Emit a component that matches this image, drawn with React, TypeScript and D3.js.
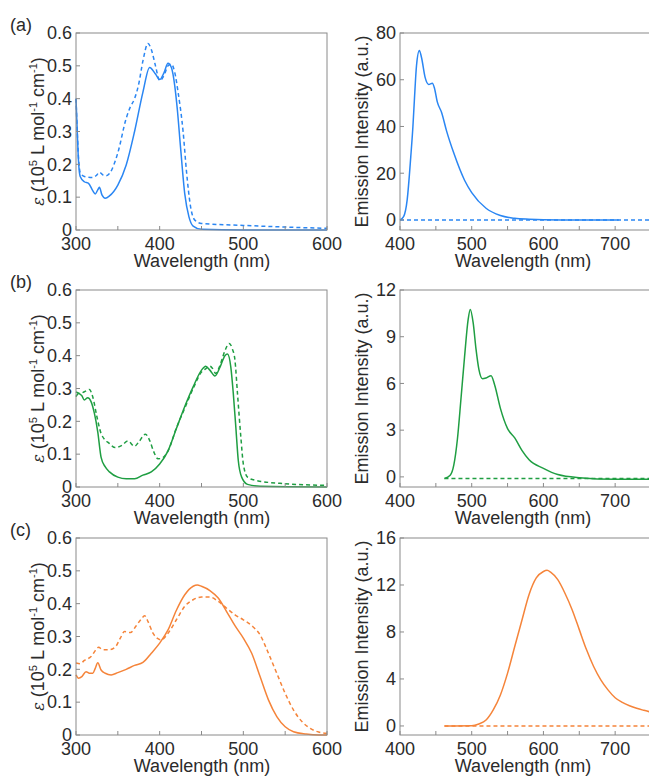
import React from 'react'
import * as d3 from 'd3'

// colours
const BLUE = '#2a86f3'
const GREEN = '#1f9e42'
const ORANGE = '#f5843a'
const FRAME = '#8a8a8a'
const INK = '#2b2b2b'

// absorption: [wavelength nm, eps / 1e5]
const absASolid = [[300, 0.40], [301.5, 0.30], [303, 0.21], [305, 0.163], [310, 0.147], [315, 0.142], [320, 0.12], [323, 0.11], [326, 0.122], [328, 0.13], [331, 0.107], [335, 0.097], [340, 0.104], [350, 0.137], [360, 0.198], [370, 0.30], [380, 0.42], [388, 0.495], [395, 0.475], [400, 0.458], [405, 0.478], [410, 0.508], [414, 0.495], [418, 0.44], [421, 0.37], [425, 0.25], [430, 0.11], [435, 0.04], [440, 0.012], [450, 0.002], [500, 0], [600, 0]]
const absADashed = [[300, 0.40], [301.5, 0.30], [303, 0.22], [305, 0.175], [310, 0.163], [320, 0.16], [325, 0.168], [328, 0.176], [332, 0.168], [336, 0.165], [340, 0.172], [350, 0.235], [360, 0.34], [365, 0.375], [370, 0.40], [375, 0.445], [380, 0.515], [386, 0.568], [390, 0.55], [395, 0.50], [400, 0.455], [405, 0.47], [410, 0.50], [414, 0.505], [418, 0.48], [422, 0.42], [428, 0.30], [432, 0.18], [437, 0.07], [442, 0.03], [450, 0.02], [500, 0.014], [550, 0.009], [600, 0.005]]

const absBSolid = [[300, 0.275], [303, 0.285], [307, 0.278], [310, 0.265], [314, 0.272], [318, 0.26], [322, 0.224], [326, 0.168], [330, 0.09], [335, 0.061], [340, 0.046], [350, 0.03], [360, 0.025], [370, 0.025], [380, 0.036], [390, 0.046], [400, 0.07], [410, 0.11], [420, 0.178], [430, 0.245], [440, 0.305], [450, 0.356], [455, 0.368], [460, 0.356], [466, 0.338], [472, 0.364], [478, 0.40], [481, 0.405], [485, 0.366], [488, 0.285], [491, 0.183], [494, 0.08], [498, 0.03], [505, 0.008], [520, 0.002], [600, 0]]
const absBDashed = [[300, 0.29], [305, 0.285], [310, 0.29], [316, 0.297], [320, 0.275], [325, 0.214], [330, 0.163], [340, 0.132], [347, 0.12], [355, 0.127], [362, 0.14], [370, 0.124], [375, 0.137], [383, 0.161], [388, 0.142], [393, 0.107], [398, 0.086], [402, 0.087], [410, 0.11], [420, 0.18], [430, 0.24], [440, 0.30], [450, 0.35], [455, 0.36], [460, 0.368], [463, 0.362], [467, 0.346], [472, 0.37], [478, 0.415], [483, 0.437], [487, 0.42], [490, 0.386], [493, 0.285], [497, 0.153], [500, 0.07], [505, 0.03], [515, 0.02], [550, 0.01], [600, 0.005]]

const absCSolid = [[300, 0.183], [303, 0.173], [307, 0.178], [312, 0.193], [316, 0.188], [320, 0.188], [323, 0.203], [326, 0.22], [330, 0.198], [335, 0.188], [342, 0.183], [350, 0.19], [360, 0.20], [370, 0.212], [380, 0.221], [390, 0.249], [400, 0.28], [410, 0.32], [420, 0.38], [430, 0.427], [440, 0.453], [445, 0.457], [450, 0.453], [460, 0.44], [470, 0.417], [480, 0.376], [490, 0.333], [500, 0.295], [510, 0.249], [520, 0.178], [530, 0.107], [540, 0.056], [550, 0.025], [560, 0.01], [575, 0.003], [590, 0], [600, 0]]
const absCDashed = [[300, 0.219], [305, 0.217], [310, 0.227], [318, 0.239], [324, 0.26], [327, 0.267], [332, 0.26], [340, 0.26], [347, 0.268], [353, 0.295], [358, 0.315], [365, 0.312], [372, 0.333], [378, 0.353], [382, 0.363], [386, 0.346], [392, 0.31], [397, 0.295], [402, 0.29], [410, 0.31], [420, 0.351], [430, 0.392], [440, 0.412], [450, 0.42], [460, 0.42], [470, 0.407], [480, 0.386], [490, 0.366], [500, 0.351], [510, 0.333], [520, 0.305], [530, 0.249], [540, 0.188], [550, 0.127], [560, 0.076], [570, 0.041], [580, 0.02], [590, 0.009], [600, 0.005]]

// emission: [wavelength nm, intensity a.u.]
const emASolid = [[400, 0], [405, 1.4], [410, 8.6], [415, 27], [418, 40], [420, 51], [423, 66], [427, 72.5], [430, 69.5], [435, 61], [440, 58], [445, 58.5], [448, 56.5], [452, 50.5], [458, 46], [465, 38], [475, 28.6], [490, 17], [500, 11.7], [520, 5], [540, 1.9], [560, 0.7], [580, 0.3], [600, 0.1], [650, 0], [705, 0]]
const emADashed = [[400, 0], [750, 0]]

const emBSolid = [[462, -0.1], [470, 0.1], [475, 0.75], [480, 2.4], [485, 5], [490, 7.7], [495, 10.1], [498, 10.75], [502, 9.9], [506, 8.2], [510, 6.9], [515, 6.3], [520, 6.35], [527, 6.5], [532, 5.9], [540, 4.4], [550, 3.1], [560, 2.5], [570, 1.7], [580, 1.1], [600, 0.55], [620, 0.15], [650, -0.05], [700, -0.15], [750, -0.15]]
const emBDashed = [[462, -0.1], [750, -0.1]]

const emCSolid = [[462, 0], [500, 0.02], [510, 0.17], [520, 0.5], [530, 1.36], [540, 2.64], [550, 4.5], [560, 6.76], [570, 9.0], [580, 11.2], [590, 12.6], [600, 13.15], [605, 13.25], [610, 13.1], [620, 12.45], [630, 11.3], [640, 9.9], [650, 8.2], [660, 6.5], [670, 5.06], [680, 3.92], [690, 3.07], [700, 2.4], [710, 2.0], [720, 1.72], [730, 1.5], [740, 1.33], [750, 1.18]]
const emCDashed = [[462, 0], [750, 0]]

const absYTicks = [0, 0.1, 0.2, 0.3, 0.4, 0.5, 0.6]
const absXTicks = [300, 350, 400, 450, 500, 550, 600]
const absXLabels = [300, 400, 500, 600]
const emXTicks = [400, 450, 500, 550, 600, 650, 700, 750]
const emXLabels = [400, 500, 600, 700]
const emYTicksA = [0, 20, 40, 60, 80]
const emYTicksB = [0, 3, 6, 9, 12]
const emYTicksC = [0, 4, 8, 12, 16]

const rows = [
  { label: '(a)', top: 33, bottom: 230, color: BLUE, abs: [absASolid, absADashed], em: [emASolid, emADashed], emMin: -4.3, emMax: 80, emTicks: emYTicksA },
  { label: '(b)', top: 290, bottom: 487, color: GREEN, abs: [absBSolid, absBDashed], em: [emBSolid, emBDashed], emMin: -0.65, emMax: 12, emTicks: emYTicksB },
  { label: '(c)', top: 538, bottom: 735, color: ORANGE, abs: [absCSolid, absCDashed], em: [emCSolid, emCDashed], emMin: -0.77, emMax: 16, emTicks: emYTicksC },
]

const FONT = '"Liberation Sans", Arial, sans-serif'
const TICK = 4

const Panel = ({ x0, x1, top, bottom, xDomain, yDomain, xTicks, xLabels, yTicks, yFmt, series, color, yTitle, titleX, titleMid }) => {
  const x = d3.scaleLinear().domain(xDomain).range([x0, x1])
  const y = d3.scaleLinear().domain(yDomain).range([bottom, top])
  const line = d3.line().x(d => x(d[0])).y(d => y(d[1])).curve(d3.curveMonotoneX)
  const midY = (top + bottom) / 2
  return (
    <g>
      {series.map((s, i) =>
        <path key={i} d={line(s)} fill="none" stroke={color} strokeWidth={1.5}
          strokeDasharray={i === 1 ? '4,3' : null} strokeLinejoin="round" />
      )}
      <rect x={x0} y={top} width={x1 - x0} height={bottom - top} fill="none" stroke={FRAME} strokeWidth={1} />
      {xTicks.map(t =>
        <line key={'xt' + t} x1={x(t)} x2={x(t)} y1={bottom} y2={bottom - TICK} stroke={FRAME} />
      )}
      {xLabels.map(t =>
        <text key={'xl' + t} x={x(t)} y={bottom + 20} textAnchor="middle" fontSize={18} fill={INK}>{t}</text>
      )}
      {yTicks.map(t =>
        <g key={'y' + t}>
          <line x1={x0} x2={x0 + TICK} y1={y(t)} y2={y(t)} stroke={FRAME} />
          <text x={x0 - 4} y={y(t)} dy="0.35em" textAnchor="end" fontSize={18} fill={INK}>{yFmt(t)}</text>
        </g>
      )}
      <text x={titleMid} y={bottom + 37} textAnchor="middle" fontSize={18} fill={INK}>Wavelength (nm)</text>
      <text transform={`translate(${titleX},${midY}) rotate(-90)`} textAnchor="middle" fontSize={18} fill={INK}>{yTitle}</text>
    </g>
  )
}

const epsTitle = (
  <>
    <tspan fontStyle="italic" fontFamily='"DejaVu Serif", serif' fontSize={16}>ε</tspan>
    <tspan> (10</tspan>
    <tspan fontSize={11} dy={-7}>5</tspan>
    <tspan dy={7}> L mol</tspan>
    <tspan fontSize={11} dy={-7}>-1</tspan>
    <tspan dy={7}> cm</tspan>
    <tspan fontSize={11} dy={-7}>-1</tspan>
    <tspan dy={7}>)</tspan>
  </>
)

export default function App() {
  return (
    <>
      <style>{`body{margin:0;background:#fff}`}</style>
      <svg width={649} height={776} style={{ display: 'block', fontFamily: FONT }}>
        <rect width={649} height={776} fill="#fff" />
        {rows.map(r =>
          <g key={r.label}>
            <text x={10} y={r.top - 2} fontSize={18} fill={INK}>{r.label}</text>
            <Panel x0={76} x1={327} top={r.top} bottom={r.bottom} xDomain={[300, 600]} yDomain={[0, 0.6]}
              xTicks={absXTicks} xLabels={absXLabels} yTicks={absYTicks}
              yFmt={t => (t === 0 ? '0' : t.toFixed(1))} series={r.abs} color={r.color}
              yTitle={epsTitle} titleX={44} titleMid={202} />
            <Panel x0={400} x1={651} top={r.top} bottom={r.bottom} xDomain={[400, 750]} yDomain={[r.emMin, r.emMax]}
              xTicks={emXTicks} xLabels={emXLabels} yTicks={r.emTicks}
              yFmt={t => String(t)} series={r.em} color={r.color}
              yTitle="Emission Intensity (a.u.)" titleX={368} titleMid={523} />
          </g>
        )}
      </svg>
    </>
  )
}
